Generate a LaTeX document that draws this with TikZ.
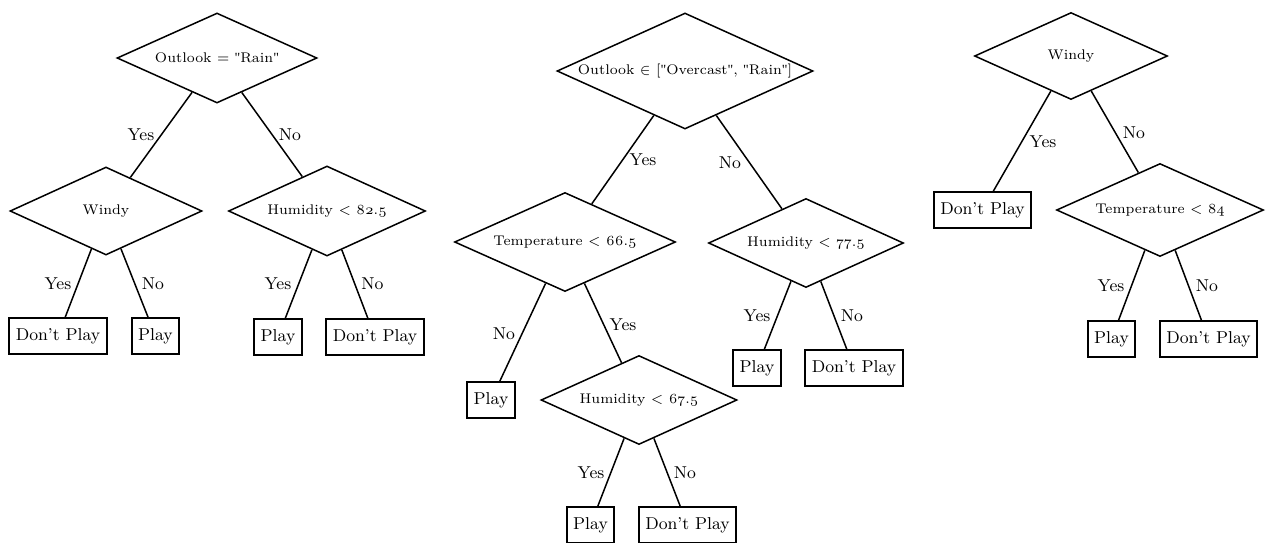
\documentclass[tikz,border=0pt]{standalone}
\usepackage{fontspec}
\setmainfont{Latin Modern Roman}[Numbers=OldStyle]
\newfontfamily\quotefont{Liberation Serif}
\usetikzlibrary{shapes.geometric}
\newcommand{\dq}{{\quotefont\symbol{34}}}
\begin{document}
\begin{tikzpicture}[x=0.5pt,y=-0.5pt,line width=0.75pt,
  test/.style 2 args={draw,diamond,aspect=2.2,inner sep=0pt,
    minimum width=#1,minimum height=#2,font=\fontsize{7.0}{8.5}\selectfont},
  leaf/.style={draw,rectangle,inner sep=0pt,minimum height=18pt,
    minimum width=#1,font=\fontsize{8.6}{10}\selectfont},
  lbl/.style={inner sep=0pt,font=\fontsize{8.6}{10}\selectfont}]
\useasboundingbox (0,0) rectangle (1268,542);

% ---- tree 1 ----
\node[test={100pt}{45pt}] (d1) at (217,58) {Outlook = \dq Rain\dq};
\node[test={96pt}{44pt}] (d2) at (106,211) {Windy};
\node[test={98.5pt}{45pt}] (d3) at (327,211) {Humidity < 82.5};
\node[leaf=49pt] (l1) at (58,336) {Don't Play};
\node[leaf=23.5pt] (l2) at (155.5,336) {Play};
\node[leaf=24pt] (l3) at (278,337) {Play};
\node[leaf=49pt] (l4) at (375,337) {Don't Play};
\draw (d1) -- (d2);
\draw (d1) -- (d3);
\draw (d2) -- (l1);
\draw (d2) -- (l2);
\draw (d3) -- (l3);
\draw (d3) -- (l4);
\node[lbl] (y1) at (141,135) {Yes};
\node[lbl] (n1) at (290,135) {No};
\node[lbl] (y2) at (58,284) {Yes};
\node[lbl] (n2) at (153,284) {No};
\node[lbl] (y3) at (278,284) {Yes};
\node[lbl] (n3) at (372.5,284) {No};

% ---- tree 2 ----
\node[test={128pt}{58pt}] (d4) at (685,71) {Outlook $\in$ [\dq Overcast\dq, \dq Rain\dq]};
\node[test={110.5pt}{49.5pt}] (d5) at (565,242) {Temperature < 66.5};
\node[test={97.5pt}{44.5pt}] (d6) at (806,243) {Humidity < 77.5};
\node[test={98pt}{44.5pt}] (d7) at (639,400) {Humidity < 67.5};
\node[leaf=24pt] (l5) at (491,400) {Play};
\node[leaf=24pt] (l6) at (757,368) {Play};
\node[leaf=49pt] (l7) at (854,368) {Don't Play};
\node[leaf=23.5pt] (l8) at (590.5,525) {Play};
\node[leaf=48.5pt] (l9) at (687.5,525) {Don't Play};
\draw (d4) -- (d5);
\draw (d4) -- (d6);
\draw (d5) -- (l5);
\draw (d5) -- (d7);
\draw (d6) -- (l6);
\draw (d6) -- (l7);
\draw (d7) -- (l8);
\draw (d7) -- (l9);
\node[lbl] (y4) at (643,160) {Yes};
\node[lbl] (n4) at (730,163) {No};
\node[lbl] (n5) at (504,334) {No};
\node[lbl] (y5) at (623,325) {Yes};
\node[lbl] (y6) at (757,316) {Yes};
\node[lbl] (n6) at (852,316) {No};
\node[lbl] (y7) at (591,473) {Yes};
\node[lbl] (n7) at (685,473) {No};

% ---- tree 3 ----
\node[test={96.5pt}{43.5pt}] (d8) at (1071,56) {Windy};
\node[test={103.5pt}{46.5pt}] (d9) at (1160,210) {Temperature < 84};
\node[leaf=48.5pt] (l10) at (982.5,210) {Don't Play};
\node[leaf=23.5pt] (l11) at (1111.5,339) {Play};
\node[leaf=48.5pt] (l12) at (1208.5,339) {Don't Play};
\draw (d8) -- (l10);
\draw (d8) -- (d9);
\draw (d9) -- (l11);
\draw (d9) -- (l12);
\node[lbl] (y8) at (1043,142) {Yes};
\node[lbl] (n8) at (1134,133) {No};
\node[lbl] (y9) at (1111,286) {Yes};
\node[lbl] (n9) at (1207,286) {No};
\end{tikzpicture}
\end{document}
